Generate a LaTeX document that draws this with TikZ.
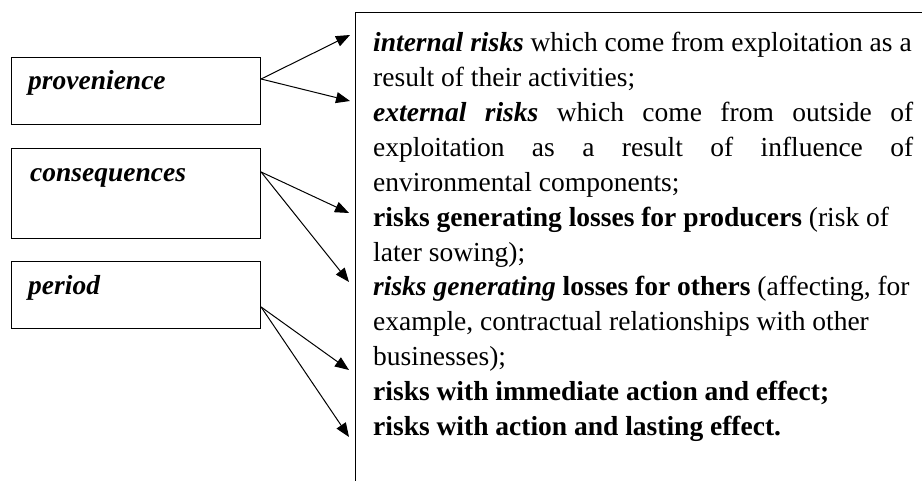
\documentclass[tikz,border=0pt]{standalone}
\usepackage{fontspec}
\setmainfont{Liberation Serif}
\usetikzlibrary{arrows.meta,calc}
\newcommand{\bi}[1]{\textbf{\textit{#1}}}
\newcommand{\jline}[1]{\makebox[540pt][s]{#1}}
\begin{document}
\begin{tikzpicture}[x=1pt,y=1pt,
  lbox/.style={draw, line width=1.1pt, minimum width=249pt, anchor=north west, inner sep=0pt},
  ltext/.style={anchor=base west, inner sep=0pt, font=\fontsize{27.5}{34.8}\selectfont\bfseries\itshape},
  rline/.style={anchor=base west, inner sep=0pt, font=\fontsize{27.5}{34.8}\selectfont},
  arr/.style={line width=1pt, -{Triangle[length=14pt,width=11pt]}},
  ]
\clip (0,0) rectangle (922,480);
% right box
\node[draw, line width=1.1pt, anchor=north west, minimum width=600pt, minimum height=520pt, inner sep=0pt] (rbox) at (355,468) {};
% left boxes
\node[lbox, minimum height=67pt] (prov) at (11,423) {};
\node[lbox, minimum height=90pt] (cons) at (11,332) {};
\node[lbox, minimum height=67pt] (per) at (11,219) {};
\node[ltext] (provT) at (28,390) {provenience};
\node[ltext] (consT) at (30,298) {consequences};
\node[ltext] (perT) at (28,185) {period};
% right text lines
\node[rline] (l1) at (373,428) {\bi{internal risks} which come from exploitation as a};
\node[rline] (l2) at (373,393.15) {result of their activities;};
\node[rline] (l3) at (373,358.3) {\jline{\bi{external risks} which come from outside of}};
\node[rline] (l4) at (373,323.45) {\jline{exploitation as a result of influence of}};
\node[rline] (l5) at (373,288.6) {environmental components;};
\node[rline] (l6) at (373,253.75) {\textbf{risks generating losses for producers} (risk of};
\node[rline] (l7) at (373,218.9) {later sowing);};
\node[rline] (l8) at (373,184.05) {\bi{risks generating} \textbf{losses for others} (affecting, for};
\node[rline] (l9) at (373,149.2) {example, contractual relationships with other};
\node[rline] (l10) at (373,114.35) {businesses);};
\node[rline] (l11) at (373,79.5) {\textbf{risks with immediate action and effect;}};
\node[rline] (l12) at (373,44.65) {\textbf{risks with action and lasting effect.}};
% connector ends
\coordinate (sp) at ($(prov.north east)+(0,-22)$);
\coordinate (sc) at ($(cons.north east)+(0,-24)$);
\coordinate (sq) at ($(per.north east)+(0,-46)$);
\coordinate (t1) at (350,445);
\coordinate (t2) at (350,379);
\coordinate (t3) at (349,267);
\coordinate (t4) at (349,198);
\coordinate (t5) at (349,110);
\coordinate (t6) at (349,43);
\draw[arr] (sp) -- (t1);
\draw[arr] (sp) -- (t2);
\draw[arr] (sc) -- (t3);
\draw[arr] (sc) -- (t4);
\draw[arr] (sq) -- (t5);
\draw[arr] (sq) -- (t6);
\end{tikzpicture}
\end{document}
